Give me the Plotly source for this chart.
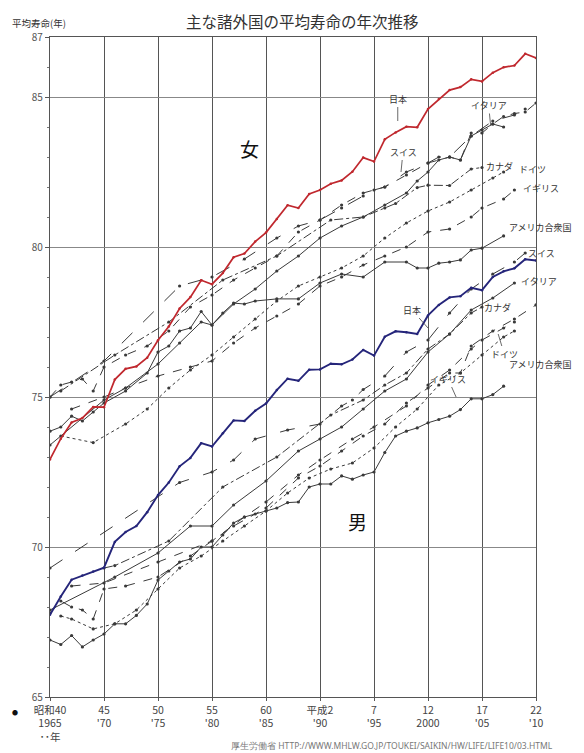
import plotly.graph_objects as go

# ---------------- data ----------------
jp_years = list(range(1965, 2011))
jp_f = [72.92, 73.61, 74.15, 74.30, 74.67, 74.66, 75.58, 75.94, 76.02, 76.31, 76.89, 77.35, 77.95, 78.33,
        78.89, 78.76, 79.13, 79.66, 79.78, 80.18, 80.48, 80.93, 81.39, 81.30, 81.77, 81.90, 82.11, 82.22,
        82.51, 82.98, 82.85, 83.59, 83.82, 84.01, 83.99, 84.60, 84.93, 85.23, 85.33, 85.59, 85.52, 85.81,
        85.99, 86.05, 86.44, 86.30]
jp_m = [67.74, 68.35, 68.91, 69.05, 69.18, 69.31, 70.17, 70.50, 70.70, 71.16, 71.73, 72.15, 72.69, 72.97,
        73.46, 73.35, 73.79, 74.22, 74.20, 74.54, 74.78, 75.23, 75.61, 75.54, 75.91, 75.92, 76.11, 76.09,
        76.25, 76.57, 76.38, 77.01, 77.19, 77.16, 77.10, 77.72, 78.07, 78.32, 78.36, 78.64, 78.56, 79.00,
        79.19, 79.29, 79.59, 79.55]

ch_f_years = [1965, 1970, 1977, 1980, 1983, 1986, 1988, 1990, 1992, 1994, 1995, 1996, 1998, 2000, 2001, 2002, 2004, 2006, 2008, 2009]
ch_f = [75.0, 76.2, 78.7, 79.0, 79.6, 80.3, 80.7, 80.9, 81.3, 81.7, 81.9, 82.0, 82.5, 82.8, 83.0, 83.0, 83.7, 84.2, 84.4, 84.6]

it_f_years = [1965, 1970, 1972, 1975, 1977, 1979, 1980, 1982, 1984, 1986, 1988, 1990, 1992, 1994, 1996, 1998, 1999, 2000, 2001, 2002, 2003, 2004, 2005, 2006, 2007]
it_f = [73.4, 74.9, 75.3, 76.1, 76.8, 77.5, 77.4, 78.1, 78.6, 79.2, 79.7, 80.3, 80.7, 81.0, 81.4, 81.8, 82.2, 82.5, 82.9, 83.0, 82.9, 83.7, 83.9, 84.1, 84.0]

fr_f_years = [1965, 1966, 1967, 1968, 1969, 1970, 1972, 1974, 1976, 1978, 1980, 1982, 1984, 1986, 1988, 1990, 1992, 1994, 1996, 1998, 2000, 2002, 2003, 2004, 2005, 2006, 2007, 2008, 2009, 2010]
fr_f = [75.0, 75.4, 75.5, 75.6, 75.2, 76.0, 76.4, 76.7, 77.2, 78.0, 78.4, 78.9, 79.3, 79.7, 80.5, 80.9, 81.4, 81.8, 82.0, 82.4, 82.8, 83.0, 82.9, 83.8, 83.8, 84.1, 84.35, 84.45, 84.5, 84.8]

ca_f_years = [1966, 1971, 1976, 1981, 1986, 1991, 1994, 1996, 1997, 1999, 2000, 2002, 2004, 2005]
ca_f = [75.2, 76.4, 77.5, 78.9, 79.7, 80.9, 81.0, 81.3, 81.45, 81.98, 82.06, 82.05, 82.6, 82.65]

de_f_years = [1966, 1969, 1972, 1974, 1976, 1978, 1980, 1982, 1984, 1986, 1988, 1990, 1992, 1994, 1996, 1998, 2000, 2002, 2004, 2006, 2007]
de_f = [73.7, 73.48, 74.1, 74.6, 75.3, 75.9, 76.4, 77.0, 77.6, 78.2, 78.7, 79.0, 79.3, 79.7, 80.3, 80.8, 81.2, 81.5, 81.9, 82.3, 82.5]

uk_f_years = [1967, 1970, 1972, 1975, 1978, 1980, 1982, 1984, 1986, 1988, 1990, 1992, 1994, 1996, 1998, 2000, 2002, 2004, 2005, 2007, 2008]
uk_f = [74.6, 75.0, 75.3, 75.7, 76.0, 76.2, 76.8, 77.3, 77.7, 78.1, 78.7, 79.0, 79.4, 79.7, 80.0, 80.5, 80.6, 81.0, 81.3, 81.6, 81.9]

us_f_years = [1965, 1966, 1967, 1968, 1969, 1970, 1972, 1974, 1975, 1976, 1977, 1978, 1979, 1980, 1981, 1982, 1983, 1984, 1986, 1988, 1990, 1992, 1994, 1996, 1998, 1999, 2000, 2001, 2002, 2003, 2004, 2005, 2007]
us_f = [73.86, 74.0, 74.36, 74.2, 74.5, 74.8, 75.2, 75.8, 76.5, 76.7, 77.2, 77.3, 77.85, 77.4, 77.8, 78.13, 78.1, 78.2, 78.27, 78.27, 78.8, 79.1, 79.0, 79.5, 79.5, 79.3, 79.3, 79.46, 79.5, 79.57, 79.9, 79.96, 80.37]

ch_m_years = [1965, 1977, 1980, 1982, 1984, 1987, 1990, 1992, 1993, 1994, 1996, 1998, 2000, 2002, 2004, 2006, 2008, 2009]
ch_m = [69.3, 72.15, 72.5, 72.9, 73.6, 73.9, 74.1, 74.7, 74.9, 75.25, 75.7, 76.5, 76.9, 77.8, 78.6, 79.1, 79.5, 79.8]

it_m_years = [1965, 1971, 1975, 1978, 1980, 1982, 1985, 1988, 1990, 1992, 1994, 1996, 1998, 2000, 2002, 2004, 2006, 2008]
it_m = [67.9, 69.0, 69.8, 70.7, 70.7, 71.4, 72.2, 73.2, 73.6, 74.0, 74.6, 75.2, 75.6, 76.5, 77.1, 77.9, 78.3, 78.8]

ca_m_years = [1970, 1971, 1976, 1981, 1986, 1991, 1994, 1996, 1998, 2000, 2002, 2004, 2005]
ca_m = [69.3, 69.38, 70.2, 72.0, 73.0, 74.4, 74.9, 75.4, 75.8, 76.6, 77.1, 77.8, 78.0]

fr_m_years = [1965, 1966, 1967, 1968, 1969, 1970, 1972, 1975, 1978, 1980, 1982, 1985, 1988, 1990, 1992, 1994, 1996, 1998, 2000, 2002, 2003, 2004, 2006, 2008, 2010]
fr_m = [67.8, 68.2, 68.0, 67.9, 67.6, 68.6, 68.7, 69.0, 69.7, 70.2, 70.7, 71.3, 72.3, 72.7, 73.2, 73.7, 74.1, 74.8, 75.3, 75.8, 75.8, 76.7, 77.2, 77.6, 78.07]

uk_m_years = [1967, 1970, 1975, 1980, 1983, 1985, 1988, 1990, 1993, 1995, 1998, 2000, 2002, 2004, 2005, 2007, 2008]
uk_m = [68.7, 68.8, 69.5, 70.2, 71.0, 71.5, 72.4, 72.9, 73.6, 74.0, 74.7, 75.4, 75.9, 76.6, 76.9, 77.3, 77.5]

de_m_years = [1966, 1967, 1969, 1971, 1973, 1975, 1977, 1979, 1981, 1983, 1985, 1987, 1989, 1991, 1993, 1995, 1997, 1999, 2001, 2003, 2005, 2007, 2008]
de_m = [67.7, 67.6, 67.27, 67.44, 67.9, 68.6, 69.3, 69.7, 70.2, 70.7, 71.2, 71.8, 72.3, 72.6, 72.8, 73.3, 74.0, 74.6, 75.4, 75.8, 76.4, 77.0, 77.2]

us_m_years = [1965, 1966, 1967, 1968, 1969, 1970, 1971, 1972, 1973, 1974, 1975, 1976, 1977, 1978, 1979, 1980, 1981, 1982, 1983, 1984, 1985, 1986, 1987, 1988, 1989, 1990, 1991, 1992, 1993, 1994, 1995, 1996, 1997, 1998, 1999, 2000, 2001, 2002, 2003, 2004, 2005, 2006, 2007]
us_m = [66.9, 66.75, 67.05, 66.67, 66.9, 67.1, 67.44, 67.44, 67.72, 68.1, 68.9, 69.2, 69.5, 69.6, 70.0, 70.0, 70.4, 70.8, 71.0, 71.1, 71.2, 71.3, 71.48, 71.5, 72.0, 72.1, 72.1, 72.37, 72.26, 72.4, 72.5, 73.15, 73.7, 73.86, 73.97, 74.14, 74.25, 74.36, 74.58, 74.94, 74.94, 75.08, 75.36]

tick_years = [1965, 1970, 1975, 1980, 1985, 1990, 1995, 2000, 2005, 2010]
tick_text = ["昭和40<br>1965<br>･･年", "45<br>'70", "50<br>'75", "55<br>'80", "60<br>'85",
             "平成2<br>'90", "7<br>'95", "12<br>2000", "17<br>'05", "22<br>'10"]
y_ticks = [65, 70, 75, 80, 85, 87]

# ---------------- figure ----------------
fig = go.Figure()
INK = "#3a3a3a"

def add(x, y, dash, color=INK, width=1.0, msize=3.2):
    fig.add_trace(go.Scatter(
        x=x, y=y, mode="lines+markers",
        line=dict(color=color, width=width, dash=dash),
        marker=dict(color=INK if color == INK else color, size=msize, symbol="circle"),
        showlegend=False, hoverinfo="skip"))

# female
add(ch_f_years, ch_f, "longdash")
add(it_f_years, it_f, "solid")
add(fr_f_years, fr_f, "dash")
add(ca_f_years, ca_f, "dashdot")
add(de_f_years, de_f, "dot")
add(uk_f_years, uk_f, "dash")
add(us_f_years, us_f, "solid")
# male
add(ch_m_years, ch_m, "longdash")
add(it_m_years, it_m, "solid")
add(ca_m_years, ca_m, "dashdot")
add(fr_m_years, fr_m, "dash")
add(uk_m_years, uk_m, "dash")
add(de_m_years, de_m, "dot")
add(us_m_years, us_m, "solid")
# Japan
add(jp_years, jp_f, "solid", color="#c0282e", width=1.7, msize=2.5)
add(jp_years, jp_m, "solid", color="#25257a", width=1.9, msize=2.5)

LBL = dict(family="Noto Sans CJK JP", size=9, color="#333")

def lab(x, y, text, ax=0, ay=0, arrow=False, xanchor="left"):
    fig.add_annotation(x=x, y=y, text=text, showarrow=arrow, ax=ax, ay=ay,
                       arrowhead=0, arrowwidth=0.8, arrowcolor="#444",
                       xanchor=xanchor, font=LBL)

# female labels
lab(1997.2, 84.2, "日本", ax=0, ay=-22, arrow=True, xanchor="center")
lab(1997.5, 82.5, "スイス", ax=2, ay=-20, arrow=True, xanchor="center")
lab(2005.8, 84.05, "イタリア", ax=-2, ay=-20, arrow=True, xanchor="center")
lab(2010.2, 84.85, "フランス")
lab(2005.2, 82.7, "カナダ")
lab(2008.2, 82.6, "ドイツ")
lab(2008.6, 81.95, "イギリス")
lab(2007.3, 80.65, "アメリカ合衆国")
# male labels
lab(2009.1, 79.8, "スイス")
lab(2008.4, 78.85, "イタリア")
lab(2000.0, 77.3, "日本", ax=-16, ay=-18, arrow=True, xanchor="center")
lab(2005.0, 78.0, "カナダ")
lab(2010.2, 78.2, "フランス")
lab(2002.6, 75.0, "イギリス", ax=-8, ay=-18, arrow=True, xanchor="center")
lab(2006.5, 77.1, "ドイツ", ax=6, ay=20, arrow=True, xanchor="center")
lab(2007.3, 76.1, "アメリカ合衆国")

# big 女 / 男
fig.add_annotation(x=1983.5, y=83.3, text="女", showarrow=False,
                   font=dict(family="Noto Sans CJK JP", size=19, color="#111"))
fig.add_annotation(x=1993.5, y=70.85, text="男", showarrow=False,
                   font=dict(family="Noto Sans CJK JP", size=19, color="#111"))

# title, axis caption, source, stray dot
fig.add_annotation(xref="paper", yref="paper", x=0.52, y=1.0, yshift=29, yanchor="top",
                   text="主な諸外国の平均寿命の年次推移",
                   showarrow=False, font=dict(family="Noto Sans CJK JP", size=15.5, color="#333"))
fig.add_annotation(xref="paper", yref="paper", x=-0.082, y=1.0, yshift=14, xanchor="left", yanchor="middle",
                   text="平均寿命(年)", showarrow=False,
                   font=dict(family="Noto Sans CJK JP", size=9.5, color="#333"))
fig.add_annotation(xref="paper", yref="paper", x=1.039, y=0, yshift=-48, xanchor="right", yanchor="middle",
                   text="厚生労働省 HTTP://WWW.MHLW.GO.JP/TOUKEI/SAIKIN/HW/LIFE/LIFE10/03.HTML",
                   showarrow=False, font=dict(family="Noto Sans", size=8.5, color="#777"))
fig.add_annotation(xref="paper", yref="paper", x=-0.083, y=0, yshift=-15, xanchor="left", yanchor="middle",
                   text="●", showarrow=False, font=dict(size=6, color="#111"))

# the page adds an 8px body margin, so the figure is sized to fit inside it
fig.update_layout(
    width=576, height=745,
    margin=dict(l=42, r=48, t=29, b=56),
    paper_bgcolor="white", plot_bgcolor="white",
    font=dict(family="Noto Sans CJK JP", size=10, color="#444"),
    xaxis=dict(range=[1965, 2010], tickvals=tick_years, ticktext=tick_text, automargin=False,
               showgrid=True, gridcolor="#555", gridwidth=1.3, zeroline=False,
               showline=True, linecolor="#555", linewidth=1.3, mirror=True,
               ticks="outside", ticklen=3, tickcolor="#555",
               tickfont=dict(size=10.5, color="#444")),
    yaxis=dict(range=[65, 87], tickvals=y_ticks, showgrid=True, gridcolor="#888", gridwidth=1,
               automargin=False,
               zeroline=False, showline=True, linecolor="#555", linewidth=1.3, mirror=True,
               ticks="outside", ticklen=4, tickcolor="#555",
               minor=dict(dtick=1, ticks="outside", ticklen=2, tickcolor="#777", showgrid=False),
               tickfont=dict(size=10, color="#555")),
)

fig.write_html("out.html")
